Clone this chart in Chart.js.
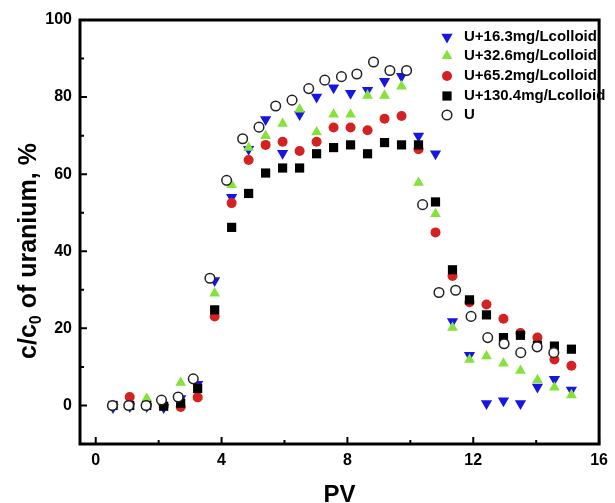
<!DOCTYPE html>
<html>
<head>
<meta charset="utf-8">
<title>c/c0 of uranium vs PV</title>
<script src="https://cdn.jsdelivr.net/npm/chart.js@4.4.1/dist/chart.umd.min.js"></script>
<style>
    html, body { margin: 0; padding: 0; background: #fff; }
    #grafico { display: block; }
</style>
</head>
<body>
<canvas id="grafico" width="615" height="503"></canvas>
<script>
// Datos (PV, c/c0 %)
const pvColoide = [0.55, 1.08, 1.62, 2.16, 2.70, 3.24, 3.78, 4.32, 4.86, 5.40, 5.94, 6.48, 7.02, 7.56,
                   8.10, 8.64, 9.18, 9.72, 10.26, 10.80, 11.34, 11.88, 12.42, 12.96, 13.50, 14.04, 14.58, 15.12];
const pvU = [0.53, 1.05, 1.60, 2.09, 2.62, 3.10, 3.63, 4.16, 4.67, 5.19, 5.72, 6.24, 6.77, 7.28,
             7.81, 8.30, 8.83, 9.35, 9.88, 10.39, 10.91, 11.44, 11.93, 12.46, 12.98, 13.51, 14.03, 14.56];

const u16 = [-0.5, -0.3, -0.3, -0.5, 1.8, 5.5, 32.4, 54.0, 66.5, 74.2, 65.4, 75.5, 80.0, 82.4,
             81.0, 81.8, 84.1, 85.4, 69.9, 65.3, 21.8, 13.0, 0.5, 1.2, 0.5, 4.8, 6.8, 4.0];
const u32 = [0.0, 0.8, 1.8, 0.2, 5.9, 2.2, 29.1, 57.2, 66.9, 69.9, 73.1, 76.8, 70.9, 75.5,
             75.5, 80.4, 80.4, 82.8, 57.8, 49.7, 20.2, 11.9, 12.8, 10.9, 9.0, 6.6, 4.7, 2.7];
const u65 = [0.0, 2.2, 0.0, 0.0, -0.4, 2.1, 23.1, 52.5, 63.7, 67.6, 68.4, 66.0, 68.4, 72.1,
             72.1, 71.4, 74.4, 75.1, 66.5, 44.9, 33.6, 26.8, 26.2, 22.5, 18.8, 17.6, 11.9, 10.3];
const u130 = [0.0, 0.0, 0.0, -0.2, 0.6, 4.4, 24.8, 46.2, 55.0, 60.3, 61.6, 61.6, 65.3, 66.9,
              67.6, 65.3, 68.2, 67.6, 67.6, 52.8, 35.2, 27.4, 23.5, 17.6, 18.2, 15.6, 15.4, 14.6];
const soloU = [0.0, 0.0, 0.0, 1.4, 2.2, 6.9, 33.0, 58.4, 69.2, 72.2, 77.7, 79.2, 82.2, 84.4,
               85.3, 86.0, 89.1, 86.9, 86.9, 52.1, 29.3, 29.9, 23.1, 17.6, 16.0, 13.7, 15.2, 13.7];

const etiquetas = ['U+16.3mg/Lcolloid', 'U+32.6mg/Lcolloid', 'U+65.2mg/Lcolloid', 'U+130.4mg/Lcolloid', 'U'];

// Marcas de los ejes
const xMarcas = [0, 4, 8, 12, 16];
const xMenores = [2, 6, 10, 14];
const yMarcas = [0, 20, 40, 60, 80, 100];
const yMenores = [10, 30, 50, 70, 90];

const fuente = "'Liberation Sans', Arial, sans-serif";

function puntos(xs, ys) {
    return xs.map((x, i) => ({ x: x, y: ys[i] }));
}

const series = [
    { label: etiquetas[0], data: puntos(pvColoide, u16), pointStyle: 'triangle', rotation: 180,
      pointRadius: 6.5, backgroundColor: '#1616e0', borderColor: '#1616e0', borderWidth: 0, order: 4 },
    { label: etiquetas[1], data: puntos(pvColoide, u32), pointStyle: 'triangle', rotation: 0,
      pointRadius: 6.2, backgroundColor: '#84e23a', borderColor: '#84e23a', borderWidth: 0, order: 3 },
    { label: etiquetas[2], data: puntos(pvColoide, u65), pointStyle: 'circle', rotation: 0,
      pointRadius: 5, backgroundColor: '#d42222', borderColor: '#d42222', borderWidth: 0, order: 2 },
    { label: etiquetas[3], data: puntos(pvColoide, u130), pointStyle: 'rect', rotation: 0,
      pointRadius: 6.5, backgroundColor: '#000000', borderColor: '#000000', borderWidth: 0, order: 1 },
    { label: etiquetas[4], data: puntos(pvU, soloU), pointStyle: 'circle', rotation: 0,
      pointRadius: 4.8, backgroundColor: '#ffffff', borderColor: '#222222', borderWidth: 1.5, order: 0 }
];

// Marco, marcas hacia dentro, título Y con subíndice y leyenda
const decoracion = {
    id: 'decoracion',
    afterDraw(chart) {
        const { ctx, chartArea: a, scales: { x, y } } = chart;
        ctx.save();
        ctx.strokeStyle = '#000';
        ctx.lineCap = 'butt';

        ctx.lineWidth = 2;
        ctx.beginPath();
        xMarcas.forEach(v => { const p = x.getPixelForValue(v); ctx.moveTo(p, a.bottom); ctx.lineTo(p, a.bottom - 7); });
        xMenores.forEach(v => { const p = x.getPixelForValue(v); ctx.moveTo(p, a.bottom); ctx.lineTo(p, a.bottom - 4); });
        yMarcas.forEach(v => { const p = y.getPixelForValue(v); ctx.moveTo(a.left, p); ctx.lineTo(a.left + 7, p); });
        yMenores.forEach(v => { const p = y.getPixelForValue(v); ctx.moveTo(a.left, p); ctx.lineTo(a.left + 4, p); });
        ctx.stroke();

        ctx.lineWidth = 3;
        ctx.strokeRect(a.left, a.top, a.right - a.left, a.bottom - a.top);

        // Título del eje Y: c/c0 of uranium, %
        ctx.save();
        ctx.translate(29, 251);
        ctx.rotate(-Math.PI / 2);
        ctx.fillStyle = '#000';
        ctx.textBaseline = 'middle';
        ctx.textAlign = 'left';
        const grande = 'bold 25px ' + fuente;
        const chica = 'bold 16px ' + fuente;
        ctx.font = grande;
        const w1 = ctx.measureText('c/c').width;
        const w3 = ctx.measureText(' of uranium, %').width;
        ctx.font = chica;
        const w2 = ctx.measureText('0').width;
        let inicio = -(w1 + w2 + w3) / 2;
        ctx.font = grande;
        ctx.fillText('c/c', inicio, 0);
        ctx.font = chica;
        ctx.fillText('0', inicio + w1, 8);
        ctx.font = grande;
        ctx.fillText(' of uranium, %', inicio + w1 + w2, 0);
        ctx.restore();

        // Leyenda
        const filasY = [37, 56, 76, 96, 115];
        ctx.font = 'bold 15px ' + fuente;
        ctx.textBaseline = 'middle';
        ctx.textAlign = 'left';
        chart.data.datasets.forEach((ds, i) => {
            ctx.fillStyle = ds.backgroundColor;
            ctx.strokeStyle = ds.borderColor;
            ctx.lineWidth = ds.borderWidth;
            Chart.helpers.drawPoint(ctx, {
                pointStyle: ds.pointStyle,
                rotation: ds.rotation,
                radius: ds.pointRadius,
                borderWidth: ds.borderWidth
            }, 447, filasY[i]);
            ctx.fillStyle = '#000';
            ctx.fillText(ds.label, 464, filasY[i]);
        });
        ctx.restore();
    }
};

const ctxGrafico = document.getElementById('grafico').getContext('2d');
new Chart(ctxGrafico, {
    type: 'scatter',
    data: { datasets: series },
    options: {
        responsive: false,
        animation: false,
        layout: { padding: { top: 20, right: 10, left: 0, bottom: 0 } },
        plugins: {
            legend: { display: false },
            tooltip: { enabled: false }
        },
        scales: {
            x: {
                type: 'linear',
                min: -0.5,
                max: 16,
                afterBuildTicks: s => { s.ticks = xMarcas.map(v => ({ value: v })); },
                afterFit: s => { s.height = 59; },
                grid: { display: false, drawTicks: false },
                border: { display: false },
                ticks: {
                    padding: 7,
                    maxRotation: 0,
                    color: '#000',
                    font: { family: fuente, size: 16, weight: 'bold' }
                },
                title: {
                    display: true,
                    text: 'PV',
                    color: '#000',
                    font: { family: fuente, size: 24, weight: 'bold', lineHeight: 1 },
                    padding: { top: 0, bottom: -4 }
                }
            },
            y: {
                type: 'linear',
                min: -10,
                max: 100,
                afterBuildTicks: s => { s.ticks = yMarcas.map(v => ({ value: v })); },
                afterFit: s => { s.width = 80; },
                grid: { display: false, drawTicks: false },
                border: { display: false },
                ticks: {
                    padding: 8,
                    color: '#000',
                    font: { family: fuente, size: 16, weight: 'bold' }
                }
            }
        }
    },
    plugins: [decoracion]
});
</script>
</body>
</html>
